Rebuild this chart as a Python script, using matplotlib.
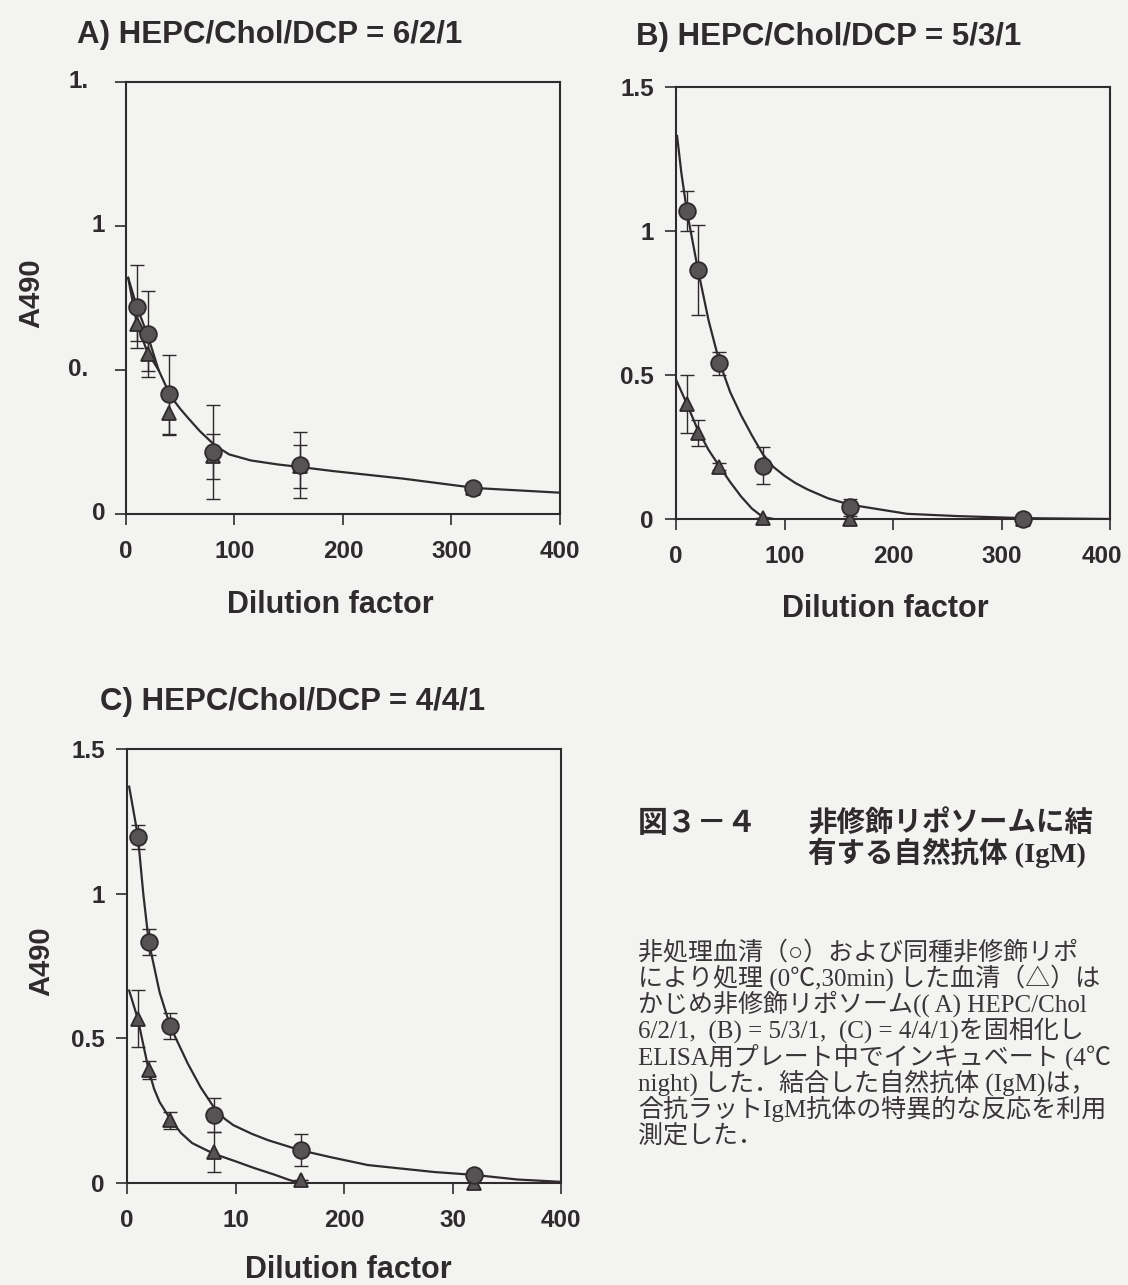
import matplotlib
matplotlib.use("Agg")
import matplotlib.pyplot as plt
import matplotlib.transforms as mtransforms

# ---- data ----
dilution = [10, 20, 40, 80, 160, 320]

# A) HEPC/Chol/DCP = 6/2/1
a_serum = [0.72, 0.625, 0.415, 0.215, 0.17, 0.09]
a_serum_err = [0.145, 0.15, 0.137, 0.162, 0.116, 0.0]
a_treated = [0.66, 0.555, 0.35, 0.20, 0.165, 0.09]
a_treated_err = [0.06, 0.06, 0.074, 0.078, 0.073, 0.0]
a_fit1_x = [2, 10, 20, 30, 41, 50, 58, 68, 82, 95, 115, 140, 163, 191, 255, 323, 400]
a_fit1_y = [0.82, 0.72, 0.62, 0.50, 0.41, 0.365, 0.33, 0.288, 0.238, 0.207, 0.186, 0.172, 0.162, 0.149, 0.123, 0.09, 0.074]
a_fit2_x = [2, 10, 20, 30]
a_fit2_y = [0.82, 0.66, 0.56, 0.50]

# B) HEPC/Chol/DCP = 5/3/1
b_serum = [1.07, 0.865, 0.54, 0.185, 0.04, 0.0]
b_serum_err = [0.07, 0.155, 0.04, 0.064, 0.028, 0.0]
b_treated = [0.40, 0.30, 0.181, 0.005, 0.0, 0.0]
b_treated_err = [0.10, 0.045, 0.012, 0.0, 0.0, 0.0]
b_fit1_x = [1, 5, 10, 20, 30, 40, 50, 60, 70, 80, 90, 100, 110, 121, 140, 160, 213, 260, 320, 400]
b_fit1_y = [1.33, 1.2, 1.07, 0.87, 0.69, 0.545, 0.44, 0.36, 0.29, 0.225, 0.18, 0.15, 0.125, 0.103, 0.072, 0.05, 0.018, 0.01, 0.003, 0.0]
b_fit2_x = [0.5, 10, 20, 30, 40, 50, 60, 70, 80, 90]
b_fit2_y = [0.48, 0.40, 0.31, 0.24, 0.183, 0.128, 0.078, 0.036, 0.007, 0.0]

# C) HEPC/Chol/DCP = 4/4/1
c_serum = [1.196, 0.833, 0.542, 0.235, 0.114, 0.028]
c_serum_err = [0.04, 0.046, 0.045, 0.06, 0.055, 0.0]
c_treated = [0.568, 0.39, 0.217, 0.108, 0.01, 0.0]
c_treated_err = [0.098, 0.032, 0.03, 0.069, 0.0, 0.0]
c_fit1_x = [2, 10, 15, 20, 30, 40, 56, 68, 80, 90, 98, 115, 130, 160, 188, 222, 283, 320, 360, 400]
c_fit1_y = [1.37, 1.2, 1.0, 0.835, 0.66, 0.54, 0.413, 0.33, 0.262, 0.222, 0.2, 0.17, 0.148, 0.113, 0.089, 0.062, 0.038, 0.028, 0.012, 0.004]
c_fit2_x = [2, 10, 20, 25, 30, 40, 50, 60, 80, 100, 117, 135, 150, 160]
c_fit2_y = [0.665, 0.567, 0.39, 0.325, 0.28, 0.22, 0.172, 0.138, 0.101, 0.075, 0.052, 0.03, 0.01, 0.0]

yticks = [0, 0.5, 1, 1.5]
xticks = [0, 100, 200, 300, 400]
a_ylabels = ["0", "0.", "1", "1."]
bc_ylabels = ["0", "0.5", "1", "1.5"]
ab_xlabels = ["0", "100", "200", "300", "400"]
c_xlabels = ["0", "10", "200", "30", "400"]

titles = ["A) HEPC/Chol/DCP = 6/2/1", "B) HEPC/Chol/DCP = 5/3/1", "C) HEPC/Chol/DCP = 4/4/1"]

caption_head = "図３－４"
caption_title = ["非修飾リポソームに結", "有する自然抗体 (IgM)"]
caption_body = [
    "非処理血清（○）および同種非修飾リポ",
    "により処理 (0℃,30min) した血清（△）は",
    "かじめ非修飾リポソーム(( A) HEPC/Chol",
    "6/2/1,  (B) = 5/3/1,  (C) = 4/4/1)を固相化し",
    "ELISA用プレート中でインキュベート (4℃",
    "night) した．結合した自然抗体 (IgM)は，",
    "合抗ラットIgM抗体の特異的な反応を利用",
    "測定した．",
]

# ---- style ----
W, H = 1128, 1285
BG = "#f3f3f1"
INK = "#2f2b2d"
MARK_FACE = "#575254"
TICK_FS = 17.5

plt.rcParams["font.family"] = ["Liberation Sans", "Noto Sans CJK JP"]
plt.rcParams["font.weight"] = "bold"
plt.rcParams["text.color"] = INK


def fx(px):
    return px / W


def fy(py):
    return 1 - py / H


fig = plt.figure(figsize=(W / 100, H / 100), dpi=100, facecolor=BG)


def panel(rect, serum, serum_err, treated, treated_err, fits, xlabels, ylabels):
    left, top, right, bottom = rect
    ax = fig.add_axes([fx(left), fy(bottom), fx(right) - fx(left), fy(top) - fy(bottom)])
    ax.set_facecolor(BG)
    for fx_, fy_ in fits:
        ax.plot(fx_, fy_, color=INK, lw=1.6, zorder=2, solid_joinstyle="round")
    ax.errorbar(dilution, serum, yerr=serum_err, fmt="none", ecolor=INK, elinewidth=1.0,
                capsize=5, capthick=1.0, zorder=3)
    ax.errorbar(dilution, treated, yerr=treated_err, fmt="none", ecolor=INK, elinewidth=1.0,
                capsize=5, capthick=1.0, zorder=3)
    ax.plot(dilution, treated, linestyle="none", marker="^", ms=10, mfc=MARK_FACE,
            mec=INK, mew=1.3, zorder=4, clip_on=False)
    ax.plot(dilution, serum, linestyle="none", marker="o", ms=12, mfc=MARK_FACE,
            mec=INK, mew=1.3, zorder=5, clip_on=False)
    ax.set_xlim(0, 400)
    ax.set_ylim(0, 1.5)
    ax.set_xticks(xticks)
    ax.set_xticklabels(xlabels)
    ax.set_yticks(yticks)
    if ylabels is not None:
        ax.set_yticklabels(ylabels)
    else:
        ax.set_yticklabels([])
    ax.tick_params(direction="out", length=8, width=1.2, color=INK, labelsize=TICK_FS,
                   labelcolor=INK)
    ax.tick_params(axis="x", pad=11)
    ax.tick_params(axis="y", pad=8)
    for s in ax.spines.values():
        s.set_linewidth(1.5)
        s.set_color(INK)
    return ax


ax_a = panel((126, 82, 560, 514), a_serum, a_serum_err, a_treated, a_treated_err,
             [(a_fit1_x, a_fit1_y), (a_fit2_x, a_fit2_y)], ab_xlabels, None)
ax_b = panel((676, 87, 1110, 519), b_serum, b_serum_err, b_treated, b_treated_err,
             [(b_fit1_x, b_fit1_y), (b_fit2_x, b_fit2_y)], ab_xlabels, bc_ylabels)
ax_c = panel((127, 749, 561, 1183), c_serum, c_serum_err, c_treated, c_treated_err,
             [(c_fit1_x, c_fit1_y), (c_fit2_x, c_fit2_y)], c_xlabels, bc_ylabels)

# the last x label of panel B sits a little left of its tick (page edge)
last = ax_b.xaxis.get_major_ticks()[-1].label1
last.set_transform(last.get_transform() + mtransforms.ScaledTranslation(-6 / 72, 0, fig.dpi_scale_trans))

# panel A: truncated tick labels of the scan (the trailing "5" is missing)
for v, lab in zip(yticks, a_ylabels):
    shift = 27 if lab.endswith(".") else 15
    ax_a.annotate(lab, xy=(0, v), xycoords=("axes fraction", "data"),
                  xytext=(-shift, 0), textcoords="offset points",
                  ha="right", va="center", fontsize=TICK_FS, fontweight="bold", color=INK)

for ax, lx in ((ax_a, -0.185), (ax_c, -0.165)):
    ax.set_ylabel("A490", fontsize=21, fontweight="bold", color=INK)
    ax.yaxis.set_label_coords(lx, 0.51)

# titles and x axis titles
for t, (px, py) in zip(titles, [(77, 43), (636, 45), (100, 710)]):
    fig.text(fx(px), fy(py), t, fontsize=22.5, fontweight="bold", ha="left", va="baseline")
for px, py in [(330, 613), (885, 617), (348, 1278)]:
    fig.text(fx(px), fy(py), "Dilution factor", fontsize=22, fontweight="bold",
             ha="center", va="baseline")

# caption
cap_font = ["Liberation Serif", "Noto Sans CJK JP"]
fig.text(fx(638), fy(832), caption_head, fontsize=21.5, fontweight="bold",
         family=cap_font, ha="left", va="baseline")
for i, line in enumerate(caption_title):
    fig.text(fx(808), fy(832 + 30 * i), line, fontsize=20.5, fontweight="bold",
             family=cap_font, ha="left", va="baseline")
for i, line in enumerate(caption_body):
    fig.text(fx(638), fy(959 + 26.4 * i), line, fontsize=18, fontweight="normal",
             family=cap_font, ha="left", va="baseline", color="#3a3537")

fig.savefig("out.png", dpi=100, facecolor=BG)
